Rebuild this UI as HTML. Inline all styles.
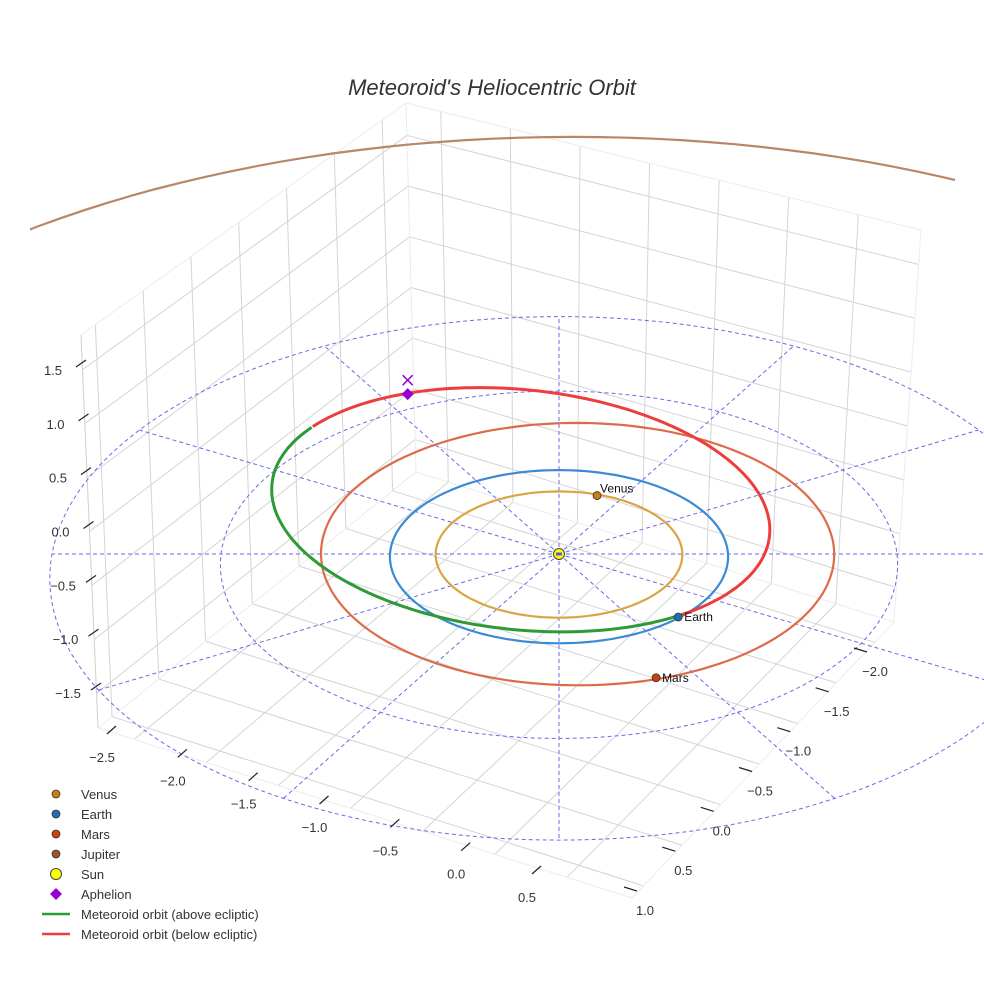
<!DOCTYPE html>
<html><head><meta charset="utf-8">
<style>
html,body{margin:0;padding:0;background:#fff;overflow:hidden;}
svg{display:block;font-family:"Liberation Sans",sans-serif;}
</style></head>
<body>
<svg id="chart" width="984" height="984" viewBox="0 0 984 984" xmlns="http://www.w3.org/2000/svg">
<defs><clipPath id="sceneclip"><rect x="30" y="0" width="925" height="984"/></clipPath></defs>
<rect width="984" height="984" fill="#fff"/>
<g id="grid"></g>
<g id="guides"></g>
<g id="orbits"></g>
<g id="meteor"></g>
<g id="marks"></g>
<g id="axes"></g>
<text x="492" y="95" text-anchor="middle" font-size="22" font-style="italic" fill="#333">Meteoroid's Heliocentric Orbit</text>
<g id="legend"></g>
</svg>
<script>
// ---- data ----
const xTicks = [-2.5, -2.0, -1.5, -1.0, -0.5, 0.0, 0.5];
const yTicks = [1.0, 0.5, 0.0, -0.5, -1.0, -1.5, -2.0];
const zTicks = [-1.5, -1.0, -0.5, 0.0, 0.5, 1.0, 1.5];
const planetNames = ["Venus", "Earth", "Mars", "Jupiter"];
const orbitRadius = [0.73, 1.0, 1.52, 5.37];
const orbitCenterX = [0.0, 0.0, 0.11, 0.1];
const orbitCenterY = [-0.01, 0.0, -0.07, -0.3];
const planetPosX = [0.23, 0.69, 0.55];
const planetPosY = [-0.69, 0.712, 1.37];
const guideRings = [1, 2, 3];
const guideAngles = [0, 30, 60, 90, 120, 150, 180, 210, 240, 270, 300, 330];
const meteorCenter = [-0.23, -0.52];
const meteorSemi = [1.48, 1.387];
const meteorTiltDeg = [6];
const meteorAboveRange = [48, 210.5];
const meteorBelowRange = [210.5, 408];
const aphelionPos = [-0.95, -1.96];

const NS = "http://www.w3.org/2000/svg";
function el(tag, attrs, parent) {
  const e = document.createElementNS(NS, tag);
  for (const k in attrs) e.setAttribute(k, attrs[k]);
  parent.appendChild(e);
  return e;
}
// ---- box (trilinear in screen space) ----
const XR = [-2.75, 0.95], YR = [-2.25, 1.15], ZR = [-1.82, 1.82];
const corners = {
  A: [98, 728], B: [632, 898], C: [894, 622], D: [416, 472],
  A2: [81, 335], B2: [648, 475], C2: [921, 230], D2: [406, 103]
};
function lerp(p, q, t) { return [p[0] + (q[0] - p[0]) * t, p[1] + (q[1] - p[1]) * t]; }
function box(X, Y, Z) {
  const u = (X - XR[0]) / (XR[1] - XR[0]);
  const v = (Y - YR[0]) / (YR[1] - YR[0]);
  const w = (Z - ZR[0]) / (ZR[1] - ZR[0]);
  const bot = lerp(lerp(corners.D, corners.C, u), lerp(corners.A, corners.B, u), v);
  const top = lerp(lerp(corners.D2, corners.C2, u), lerp(corners.A2, corners.B2, u), v);
  return lerp(bot, top, w);
}
const grid = document.getElementById('grid');
function gline(p, q, color, name) {
  const l = el('line', {x1: p[0], y1: p[1], x2: q[0], y2: q[1], stroke: color, 'stroke-width': 1}, grid);
  
  
}
const gc = '#d4d4d4';
xTicks.forEach(x => {
  gline(box(x, YR[0], ZR[0]), box(x, YR[1], ZR[0]), gc, 'floor-grid-x');
  gline(box(x, YR[0], ZR[0]), box(x, YR[0], ZR[1]), gc, 'backwall-grid-x');
});
yTicks.forEach(y => {
  gline(box(XR[0], y, ZR[0]), box(XR[1], y, ZR[0]), gc, 'floor-grid-y');
  gline(box(XR[0], y, ZR[0]), box(XR[0], y, ZR[1]), gc, 'sidewall-grid-y');
});
zTicks.forEach(z => {
  gline(box(XR[0], YR[0], z), box(XR[0], YR[1], z), gc, 'sidewall-grid-z');
  gline(box(XR[0], YR[0], z), box(XR[1], YR[0], z), gc, 'backwall-grid-z');
});
const ec = '#ececec';
gline(corners.A, corners.B, ec, 'box-edge'); gline(corners.B, corners.C, ec, 'box-edge');
gline(corners.A, corners.D, ec, 'box-edge'); gline(corners.D, corners.C, ec, 'box-edge');
gline(corners.A, corners.A2, '#cfcfcf', 'box-edge'); gline(corners.D, corners.D2, ec, 'box-edge');
gline(corners.C, corners.C2, ec, 'box-edge'); gline(corners.A2, corners.D2, ec, 'box-edge');
gline(corners.D2, corners.C2, ec, 'box-edge');

// ---- ecliptic projection ----
const SX = 559, SY = 554, KX = 169, KY = 86.5, KZ = 107, PERS = 0.031;
function proj(x, y, z) {
  const f = 1 / (1 - PERS * y);
  return [SX + KX * x * f, SY + KY * y * f - KZ * (z || 0) * f];
}
function circlePath(cx, cy, r, a0, a1) {
  let d = '';
  a0 = a0 === undefined ? 0 : a0; a1 = a1 === undefined ? 360 : a1;
  for (let i = a0, k = 0; i <= a1; i += 2, k++) {
    const a = i * Math.PI / 180;
    const p = proj(cx + r * Math.cos(a), cy + r * Math.sin(a), 0);
    d += (k ? 'L' : 'M') + p[0].toFixed(1) + ',' + p[1].toFixed(1);
  }
  return d;
}
const guides = document.getElementById('guides');
guideRings.forEach(r => {
  const p = el('path', {d: circlePath(0, 0, r), fill: 'none', stroke: '#6a6ae6', 'stroke-width': 1, 'stroke-dasharray': '4,3'}, guides);
  
  
});
const rmax = guideRings[guideRings.length - 1];
guideAngles.forEach(a => {
  const t = a * Math.PI / 180;
  const q = proj(rmax * Math.cos(t), rmax * Math.sin(t), 0);
  const l = el('line', {x1: SX, y1: SY, x2: q[0], y2: q[1], stroke: '#6a6ae6', 'stroke-width': 1, 'stroke-dasharray': '4,3'}, guides);
  
  
});

const orbitColors = ['#d9a545', '#3a8ad4', '#dd6b4a', '#b8876a'];
const markerColors = ['#c98010', '#1f6fb0', '#cc4010', '#a0522d'];
const orbits = document.getElementById('orbits');
planetNames.forEach((n, i) => {
  const far = i === 3;
  const p = el('path', {d: far ? circlePath(orbitCenterX[i], orbitCenterY[i], orbitRadius[i], 180, 360) : circlePath(orbitCenterX[i], orbitCenterY[i], orbitRadius[i]), fill: 'none', stroke: orbitColors[i], 'stroke-width': 2.2}, orbits);
  if (far) p.setAttribute('clip-path', 'url(#sceneclip)');
  
  
});

// ---- meteoroid ----
const meteor = document.getElementById('meteor');
const mc = proj(meteorCenter[0], meteorCenter[1], 0);
const mrx = meteorSemi[0] * KX, mry = meteorSemi[1] * KY;
const tilt = meteorTiltDeg[0] * Math.PI / 180;
function mpt(deg) {
  const t = deg * Math.PI / 180;
  const ex = mrx * Math.cos(t), ey = mry * Math.sin(t);
  return [mc[0] + ex * Math.cos(tilt) - ey * Math.sin(tilt), mc[1] + ex * Math.sin(tilt) + ey * Math.cos(tilt)];
}
function arc(r) {
  let d = '';
  for (let a = r[0], i = 0; a <= r[1] + 0.01; a += 1.5, i++) {
    const p = mpt(Math.min(a, r[1]));
    d += (i ? 'L' : 'M') + p[0].toFixed(1) + ',' + p[1].toFixed(1);
  }
  return d;
}
const ga = el('path', {d: arc(meteorAboveRange), fill: 'none', stroke: '#2e9a35', 'stroke-width': 3}, meteor);


const rb = el('path', {d: arc(meteorBelowRange), fill: 'none', stroke: '#ee3d3d', 'stroke-width': 3}, meteor);



// ---- markers ----
const marks = document.getElementById('marks');
planetPosX.forEach((x, i) => {
  const p = proj(x, planetPosY[i], 0);
  const c = el('circle', {cx: p[0], cy: p[1], r: 4, fill: markerColors[i], stroke: '#333', 'stroke-width': 0.8}, marks);
  
  
  const t = el('text', {x: p[0] + 3, y: p[1] - 3, 'font-size': 12, fill: '#111'}, marks);
  if (i > 0) { t.setAttribute('x', p[0] + 6); t.setAttribute('y', p[1] + 4); }
  t.textContent = planetNames[i];
  
  
});
const sun = el('circle', {cx: SX, cy: SY, r: 5.5, fill: '#ffff00', stroke: '#444', 'stroke-width': 1}, marks);


el('rect', {x: SX - 3, y: SY - 1.5, width: 6, height: 3, fill: '#5a5ad0'}, marks);
const ap = proj(aphelionPos[0], aphelionPos[1], 0);
const dia = el('path', {d: `M${ap[0]},${ap[1]-6}L${ap[0]+6},${ap[1]}L${ap[0]},${ap[1]+6}L${ap[0]-6},${ap[1]}Z`, fill: '#9400d3'}, marks);


const xm = el('path', {d: `M${ap[0]-5},${ap[1]-19}L${ap[0]+5},${ap[1]-9}M${ap[0]+5},${ap[1]-19}L${ap[0]-5},${ap[1]-9}`, stroke: '#9400d3', 'stroke-width': 1.5, fill: 'none'}, marks);



// ---- axis ticks ----
const axes = document.getElementById('axes');
function axisPos(v, v0, p0, v1, p1) { const t = (v - v0) / (v1 - v0); return [p0[0] + (p1[0] - p0[0]) * t, p0[1] + (p1[1] - p0[1]) * t]; }
function fmt(v) { return (v < 0 ? '\u2212' : '') + Math.abs(v).toFixed(1); }
function tick(p, d1, d2, name) {
  const l = el('line', {x1: p[0] + d1[0], y1: p[1] + d1[1], x2: p[0] + d2[0], y2: p[1] + d2[1], stroke: '#222', 'stroke-width': 1.2}, axes);
  
  
}
function label(p, v, name) {
  const t = el('text', {x: p[0], y: p[1] + 5, 'text-anchor': 'middle', 'font-size': 13, fill: '#333'}, axes);
  t.textContent = fmt(v);
  
  
}
xTicks.forEach(v => {
  const p = axisPos(v, -2.5, [102, 757], 0.5, [527, 897]);
  tick(p, [5, -23], [14, -31], 'x-tick');
  label(p, v, 'x-tick-label');
});
yTicks.forEach(v => {
  const p = axisPos(v, 1.0, [645, 910], -2.0, [875, 671]);
  tick(p, [-21, -23], [-8, -19], 'y-tick');
  label(p, v, 'y-tick-label');
});
zTicks.forEach(v => {
  const p = axisPos(v, -1.5, [68, 693], 1.5, [53, 370]);
  tick(p, [23, -3], [33, -10], 'z-tick');
  label(p, v, 'z-tick-label');
});

// ---- legend ----
const legend = document.getElementById('legend');
const legendNames = ["Venus", "Earth", "Mars", "Jupiter", "Sun", "Aphelion", "Meteoroid orbit (above ecliptic)", "Meteoroid orbit (below ecliptic)"];
legendNames.forEach((n, i) => {
  const y = 794 + i * 20;
  const g = el('g', {}, legend);
  
  
  if (i < 4) el('circle', {cx: 56, cy: y, r: 4, fill: markerColors[i], stroke: '#333', 'stroke-width': 0.8}, g);
  else if (i === 4) el('circle', {cx: 56, cy: y, r: 5.5, fill: '#ffff00', stroke: '#444', 'stroke-width': 1}, g);
  else if (i === 5) el('path', {d: `M56,${y-6}L62,${y}L56,${y+6}L50,${y}Z`, fill: '#9400d3'}, g);
  else el('line', {x1: 42, y1: y, x2: 70, y2: y, stroke: i === 6 ? '#2e9a35' : '#ee3d3d', 'stroke-width': 2.5}, g);
  const t = el('text', {x: 81, y: y + 5, 'font-size': 13, fill: '#333'}, g);
  t.textContent = n;
});
</script>
</body></html>
